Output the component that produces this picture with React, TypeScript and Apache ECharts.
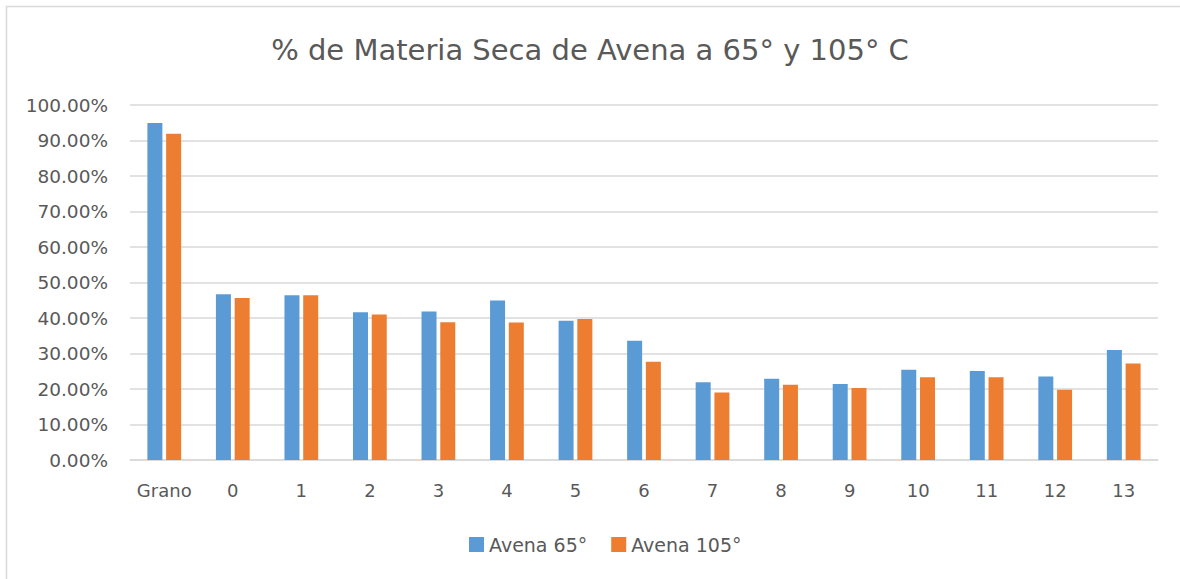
import React, { useEffect, useRef } from "react";
import * as echarts from "echarts";

const categories = ["Grano", "0", "1", "2", "3", "4", "5", "6", "7", "8", "9", "10", "11", "12", "13"];
const avena65 = [94.9, 46.7, 46.4, 41.6, 41.8, 44.9, 39.2, 33.6, 21.9, 22.9, 21.4, 25.4, 25.1, 23.5, 31.0];
const avena105 = [91.9, 45.6, 46.4, 41.0, 38.8, 38.7, 39.7, 27.7, 19.0, 21.2, 20.3, 23.3, 23.3, 19.8, 27.2];
const seriesNames = ["Avena 65°", "Avena 105°"];
const titleText = "% de Materia Seca de Avena a 65° y 105° C";

const FONT = "DejaVu Sans";
const TEXT = "#595959";

export default function App() {
  const ref = useRef<HTMLDivElement>(null);
  useEffect(() => {
    const chart = echarts.init(ref.current!, null, { renderer: "svg" });
    chart.setOption({
      animation: false,
      backgroundColor: "#ffffff",
      textStyle: { fontFamily: FONT, color: TEXT },
      title: {
        text: titleText,
        left: "center",
        top: 30,
        textStyle: { fontFamily: FONT, fontSize: 29, fontWeight: "normal", color: TEXT },
      },
      graphic: [
        {
          type: "rect",
          shape: { x: 6.5, y: 6.5, width: 1300, height: 700 },
          style: { fill: "none", stroke: "#d9d9d9", lineWidth: 1.5 },
          silent: true,
        },
      ],
      legend: {
        bottom: 20,
        left: 464,
        itemWidth: 15,
        itemHeight: 15,
        itemGap: 24,
        icon: "rect",
        textStyle: { fontFamily: FONT, fontSize: 19, color: TEXT },
        data: seriesNames,
      },
      grid: { left: 130, right: 22, top: 105, bottom: 119, containLabel: false },
      xAxis: {
        type: "category",
        data: categories,
        axisLine: { lineStyle: { color: "#d9d9d9", width: 1.5 } },
        axisTick: { show: false },
        axisLabel: { interval: 0, fontFamily: FONT, fontSize: 18, color: TEXT, margin: 21 },
      },
      yAxis: {
        type: "value",
        min: 0,
        max: 100,
        interval: 10,
        axisLine: { show: false },
        axisTick: { show: false },
        splitLine: { lineStyle: { color: "#d9d9d9", width: 1.5 } },
        axisLabel: {
          fontFamily: FONT,
          fontSize: 18.5,
          color: TEXT,
          margin: 22,
          formatter: (v: number) => v.toFixed(2) + "%",
        },
      },
      series: [
        {
          name: seriesNames[0],
          type: "bar",
          data: avena65,
          barWidth: 15,
          barGap: "25%",
          itemStyle: { color: "#5B9BD5" },
        },
        {
          name: seriesNames[1],
          type: "bar",
          data: avena105,
          barWidth: 15,
          barGap: "25%",
          itemStyle: { color: "#ED7D31" },
        },
      ],
    });
    return () => chart.dispose();
  }, []);
  return (
    <div
      ref={ref}
      style={{ position: "absolute", left: 0, top: 0, width: 1180, height: 579 }}
    />
  );
}
